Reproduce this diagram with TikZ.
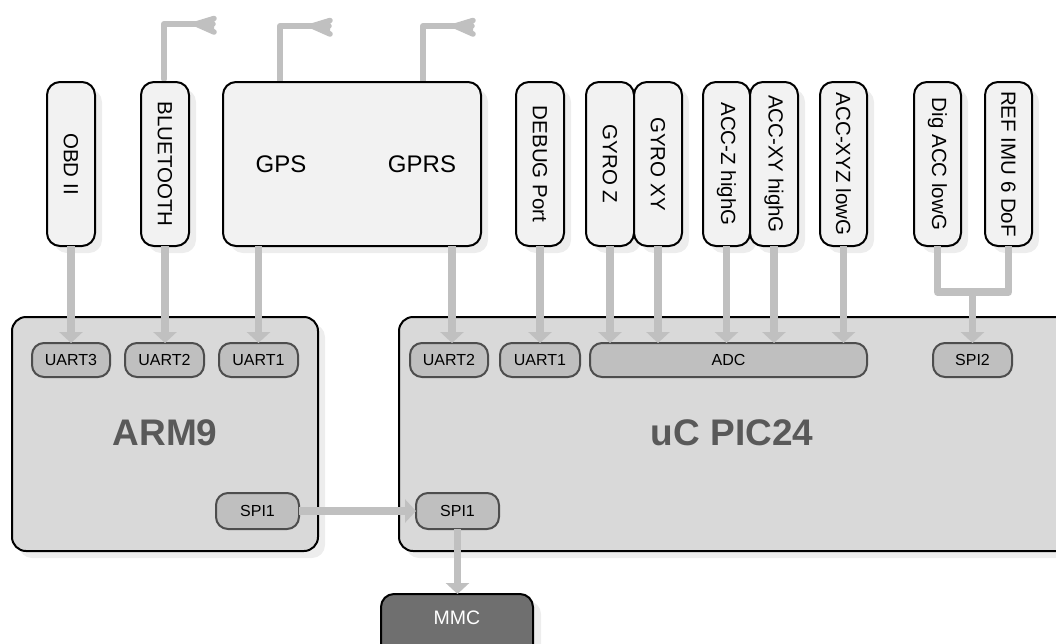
\documentclass[tikz,border=0pt]{standalone}
\usepackage{fontspec}
\setmainfont{Liberation Sans}
\usetikzlibrary{arrows.meta,calc}
\definecolor{conn}{HTML}{C0C0C0}
\definecolor{shade}{HTML}{EDEDED}
\definecolor{lightbox}{HTML}{F2F2F2}
\definecolor{cpu}{HTML}{D9D9D9}
\definecolor{port}{HTML}{BFBFBF}
\definecolor{portline}{HTML}{4D4D4D}
\definecolor{mmcfill}{HTML}{6F6F6F}
\definecolor{bigtext}{HTML}{595959}
\tikzset{
  x=1pt,y=-1pt,
  blockbase/.style={draw=black,line width=2pt,rounded corners=13pt,inner sep=0pt,outer sep=0pt,anchor=north west},
  periph/.style={blockbase,fill=lightbox,text=black},
  cpubox/.style={blockbase,fill=cpu,rounded corners=14pt},
  portbox/.style={draw=portline,line width=2pt,fill=port,rounded corners=12pt,inner sep=0pt,outer sep=0pt,anchor=north west,minimum height=34pt,font=\fontsize{16}{18}\selectfont,text=black},
  link/.style={draw=conn,line width=7.5pt},
  arrowlink/.style={link,-{Triangle[width=23pt,length=11pt]}},
  aerial/.style={draw=conn,line width=6pt,line join=round},
  shadowbox/.style={fill=shade,rounded corners=13pt,draw=none},
  biglabel/.style={font=\bfseries\fontsize{37}{40}\selectfont,text=bigtext,inner sep=0pt},
  inlabel/.style={font=\fontsize{24}{28}\selectfont,text=black,inner sep=0pt},
  vlabel/.style={rotate=-90,font=\fontsize{20.5}{24}\selectfont,text=black,inner sep=0pt},
}
\newcommand{\vblock}[4]{% name, x1, x2, text
  \fill[shadowbox] (#2+7,82+7) rectangle (#3+7,246+7);
  \node[periph,minimum width=#3-#2,minimum height=164pt] (#1) at (#2,82) {};
  \node[vlabel] (#1t) at (#1.center) {#4};
}
\newcommand{\pport}[4]{% name, x1, x2, text ; y at 343
  \node[portbox,minimum width=#3-#2] (#1) at (#2,343) {#4};
}
\newcommand{\antenna}[4]{% x, y bottom, y of arm, tip name
  \coordinate (#4) at (#1+32,#3);
  \draw[aerial,line cap=round] (#1,#2) -- (#1,#3) -- (#4);
  \fill[conn] (#1+30,#3) -- (#1+50,#3-8) -- (#1+50,#3+10) -- cycle;
  \draw[conn,line width=5.5pt,line cap=round] (#4) -- (#1+50,#3-5.5) (#4) -- (#1+49,#3) (#4) -- (#1+50,#3+8);
}
\begin{document}
\begin{tikzpicture}
\useasboundingbox (0,0) rectangle (1056,643);
% shadows
\fill[shadowbox] (19,324) rectangle (325,558);
\fill[shadowbox] (406,324) rectangle (1080,558);
\fill[shadowbox] (388,601) rectangle (541,660);
\fill[shadowbox] (230,89) rectangle (488,253);
% antennas behind blocks
\antenna{164}{79}{24}{tipa}
\antenna{280}{82}{26}{tipb}
\antenna{423}{82}{26}{tipc}
% peripherals
\vblock{obd}{47}{95}{OBD II}
\vblock{bt}{141}{189}{BLUETOOTH}
\node[periph,minimum width=258pt,minimum height=164pt] (gsm) at (223,82) {};
\node[inlabel] (gpslabel) at (281,164) {GPS};
\node[inlabel] (gprslabel) at (422,164) {GPRS};
\vblock{debug}{516}{564}{DEBUG Port}
\vblock{gyroz}{586}{634}{GYRO Z}
\vblock{gyroxy}{634}{682}{GYRO XY}
\vblock{accz}{703}{750}{ACC-Z highG}
\vblock{accxy}{750}{798}{ACC-XY highG}
\vblock{accxyz}{820}{867}{ACC-XYZ lowG}
\vblock{dig}{914}{961}{Dig ACC lowG}
\vblock{ref}{985}{1032}{REF IMU 6 DoF}
% CPUs
\node[cpubox,minimum width=306pt,minimum height=234pt] (arm) at (12,317) {};
\node[cpubox,minimum width=680pt,minimum height=234pt] (pic) at (399,317) {};
\node[biglabel] (armlabel) at (165,433) {ARM9};
\node[biglabel] (piclabel) at (732,433) {uC PIC24};
% ports
\pport{au3}{32}{110}{UART3}
\pport{au2}{125}{204}{UART2}
\pport{au1}{219}{298}{UART1}
\pport{pu2}{410}{488}{UART2}
\pport{pu1}{500}{580}{UART1}
\pport{adc}{590}{867}{ADC}
\pport{spib}{933}{1012}{SPI2}
\node[portbox,minimum width=83pt,minimum height=36pt] (aspi) at (216,493) {SPI1};
\node[portbox,minimum width=83pt,minimum height=36pt] (pspi) at (416,493) {SPI1};
\node[blockbase,fill=mmcfill,minimum width=152pt,minimum height=70pt] (mmc) at (381,594) {};
\node[text=white,font=\fontsize{19.5}{22}\selectfont,inner sep=0pt] (mmclabel) at (457,618) {MMC};
% connector anchors that sit off a box centre
\coordinate (gprsport) at (452,246);
\coordinate (joinb) at (0,292);
% connectors
\draw[arrowlink] (obd.south) -- (obd.south |- au3.north);
\draw[arrowlink] (bt.south) -- (bt.south |- au2.north);
\draw[arrowlink] (au1.north |- gsm.south) -- (au1.north);
\draw[arrowlink] (gprsport) -- (gprsport |- pu2.north);
\draw[arrowlink] (debug.south) -- (debug.south |- pu1.north);
\draw[arrowlink] (gyroz.south) -- (gyroz.south |- adc.north);
\draw[arrowlink] (gyroxy.south) -- (gyroxy.south |- adc.north);
\draw[arrowlink] (accz.south) -- (accz.south |- adc.north);
\draw[arrowlink] (accxy.south) -- (accxy.south |- adc.north);
\draw[arrowlink] (accxyz.south) -- (accxyz.south |- adc.north);
\draw[arrowlink] (spib.north |- joinb) -- (spib.north);
\draw[link,line join=round] (dig.south) -- (dig.south |- joinb) -- (ref.south |- joinb) -- (ref.south);
\draw[arrowlink] (aspi.east) -- (pspi.west);
\draw[arrowlink] (pspi.south) -- (pspi.south |- mmc.north);
\end{tikzpicture}
\end{document}
